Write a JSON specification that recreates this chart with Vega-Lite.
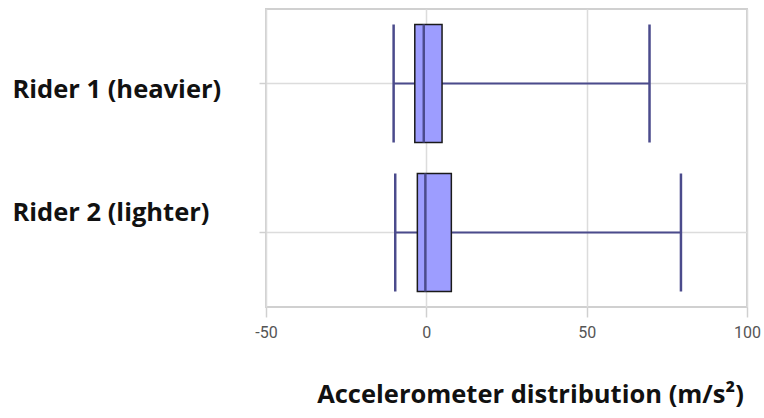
{
  "$schema": "https://vega.github.io/schema/vega-lite/v6.json",
  "autosize": "none",
  "width": 481,
  "height": 298,
  "padding": {"left": 266, "top": 9, "right": 17, "bottom": 111},
  "background": "white",
  "config": {
    "view": {"stroke": "#d0d0d0", "strokeWidth": 2},
    "axis": {"gridColor": "#dcdcdc", "gridWidth": 1.5, "domain": false, "tickColor": "#d0d0d0", "tickWidth": 1.5}
  },
  "data": {
    "values": [
      {"rider": "Rider 1 (heavier)", "lower": -10.2, "q1": -3.6, "median": -0.8, "q3": 4.9, "upper": 69.6},
      {"rider": "Rider 2 (lighter)", "lower": -9.7, "q1": -2.8, "median": -0.3, "q3": 7.8, "upper": 79.4}
    ]
  },
  "encoding": {
    "y": {
      "field": "rider",
      "type": "nominal",
      "sort": null,
      "scale": {"paddingInner": 0, "paddingOuter": 0},
      "axis": {
        "title": null,
        "grid": true,
        "tickSize": 7,
        "labelAlign": "left",
        "labelPadding": 247,
        "labelLimit": 400,
        "labelFont": "Open Sans",
        "labelFontWeight": "bold",
        "labelFontSize": 25.5,
        "labelColor": "#111111",
        "labelOffset": {"condition": {"test": "datum.value === 'Rider 2 (lighter)'", "value": -20}, "value": 6}
      }
    }
  },
  "layer": [
    {
      "mark": {"type": "rule", "color": "#4b4b8c", "strokeWidth": 2},
      "encoding": {
        "x": {
          "field": "lower",
          "type": "quantitative",
          "scale": {"domain": [-50, 100], "nice": false},
          "axis": {
            "values": [-50, 0, 50, 100],
            "grid": true,
            "tickSize": 10,
            "labelPadding": 7,
            "labelExpr": "datum.value < 0 ? '-' + abs(datum.value) : '' + datum.value",
            "labelFont": "Roboto",
            "labelFontSize": 16,
            "labelColor": "#555555",
            "labelFlush": false,
            "title": "Accelerometer distribution (m/s²)",
            "titleFont": "Open Sans",
            "titleFontWeight": "bold",
            "titleFontSize": 25.5,
            "titleColor": "#111111",
            "titleX": 264,
            "titleY": 95,
            "titleAlign": "center",
            "titleBaseline": "alphabetic",
            "titleLimit": 600
          }
        },
        "x2": {"field": "upper"}
      }
    },
    {
      "mark": {"type": "tick", "color": "#4b4b8c", "thickness": 2.5, "size": 118, "opacity": 1},
      "encoding": {"x": {"field": "lower", "type": "quantitative"}}
    },
    {
      "mark": {"type": "tick", "color": "#4b4b8c", "thickness": 2.5, "size": 118, "opacity": 1},
      "encoding": {"x": {"field": "upper", "type": "quantitative"}}
    },
    {
      "mark": {"type": "bar", "fill": "#9d9dff", "stroke": "#1a1a1a", "strokeWidth": 1.5, "size": 118},
      "encoding": {"x": {"field": "q1", "type": "quantitative"}, "x2": {"field": "q3"}}
    },
    {
      "mark": {"type": "tick", "color": "#4b4b8c", "thickness": 2.5, "size": 118, "opacity": 1},
      "encoding": {"x": {"field": "median", "type": "quantitative"}}
    }
  ]
}
